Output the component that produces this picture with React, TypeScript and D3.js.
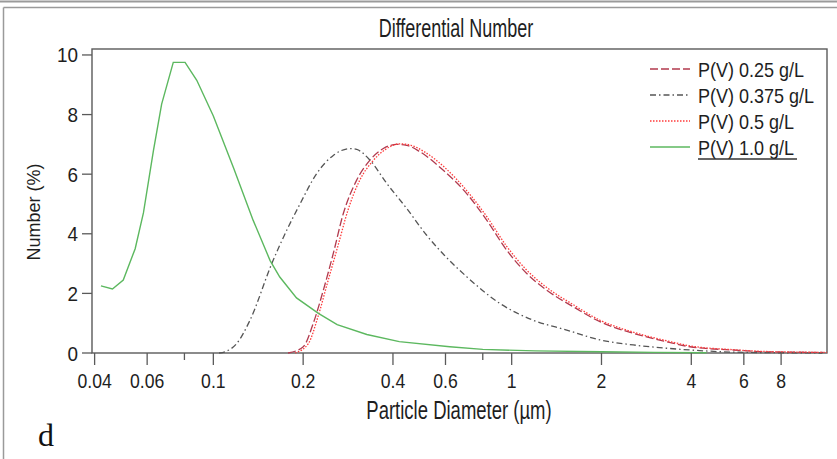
import React from "react";
import * as d3 from "d3";

// ---- data ----
const seriesLabels = ["P(V) 0.25 g/L", "P(V) 0.375 g/L", "P(V) 0.5 g/L", "P(V) 1.0 g/L"];

const d025 = [0.178, 0.2002, 0.2163, 0.2336, 0.2524, 0.2727, 0.3023, 0.335, 0.3713, 0.4117, 0.4447, 0.493, 0.59, 0.7066, 0.8245, 0.9622, 1.123, 1.31, 1.609, 1.976, 2.556, 3.307, 3.958, 5.53, 7.15, 11.04];
const v025 = [0, 0.21, 1.0, 2.1, 3.34, 4.68, 5.8, 6.47, 6.86, 7.0, 6.97, 6.75, 6.13, 5.35, 4.46, 3.45, 2.67, 2.11, 1.55, 1.05, 0.66, 0.38, 0.21, 0.1, 0.04, 0.02];

const d0375 = [0.1045, 0.1094, 0.1198, 0.1327, 0.157, 0.1762, 0.1952, 0.222, 0.2524, 0.2871, 0.3023, 0.335, 0.3813, 0.4447, 0.5189, 0.6055, 0.7066, 0.9138, 1.181, 1.529, 1.976, 2.556, 3.307, 4.276, 5.5, 11];
const v0375 = [0, 0.04, 0.32, 1.1, 3.0, 4.12, 5.0, 6.02, 6.63, 6.86, 6.83, 6.47, 5.69, 4.85, 3.95, 3.2, 2.56, 1.66, 1.1, 0.77, 0.44, 0.27, 0.16, 0.08, 0.03, 0];

const d05 = [0.188, 0.2083, 0.224, 0.242, 0.2617, 0.2828, 0.3096, 0.343, 0.38, 0.422, 0.46, 0.51, 0.6, 0.7066, 0.8245, 0.9622, 1.123, 1.31, 1.609, 1.976, 2.556, 3.307, 3.958, 5.53, 7.15, 11.4];
const v05 = [0, 0.32, 1.2, 2.4, 3.6, 4.8, 5.8, 6.45, 6.85, 7.02, 6.97, 6.75, 6.2, 5.45, 4.58, 3.58, 2.78, 2.2, 1.62, 1.1, 0.7, 0.41, 0.24, 0.11, 0.05, 0.02];

const d10 = [0.042, 0.0459, 0.0499, 0.0547, 0.0583, 0.063, 0.0671, 0.0734, 0.0804, 0.088, 0.1, 0.117, 0.136, 0.155, 0.167, 0.19, 0.225, 0.26, 0.327, 0.42, 0.62, 0.8, 1.2, 2, 3, 4.5];
const v10 = [2.25, 2.15, 2.45, 3.5, 4.7, 6.8, 8.35, 9.75, 9.75, 9.15, 7.95, 6.2, 4.45, 3.1, 2.55, 1.85, 1.33, 0.95, 0.62, 0.38, 0.21, 0.12, 0.07, 0.04, 0.02, 0.01];

const xTickMajor = [0.04, 0.06, 0.1, 0.2, 0.4, 0.6, 1, 2, 4, 6, 8];
const xTickMinor = [0.08, 0.8];
const yTicks = [0, 2, 4, 6, 8, 10];

const W = 837, H = 459;
const M = { left: 92, right: 827, top: 49, bottom: 353 };
const FONT = "'Liberation Sans', Arial, sans-serif";

const x = d3.scaleLog().domain([0.0392, 11.4]).range([M.left, M.right]);
const y = d3.scaleLinear().domain([0, 10.2]).range([M.bottom, M.top]);

const smooth = d3.line<[number, number]>().x(d => x(d[0])).y(d => y(d[1])).curve(d3.curveMonotoneX);
const straight = d3.line<[number, number]>().x(d => x(d[0])).y(d => y(d[1]));

const zip = (a: number[], b: number[]) => a.map((v, i) => [v, b[i]] as [number, number]);

const styles = [
  { color: "#b23a4e", dash: "8,3", width: 1.3 },
  { color: "#555555", dash: "6,3,1.5,3", width: 1.3 },
  { color: "#ff3b3b", dash: "1.5,1.5", width: 1.3 },
  { color: "#5cb85f", dash: "", width: 1.4 },
];

function T(props: { x: number; y: number; sx?: number; size: number; anchor?: string; family?: string; children: any; rotate?: number }) {
  const { x: tx, y: ty, sx = 1, size, anchor = "start", family = FONT, rotate = 0 } = props;
  return (
    <text
      transform={`translate(${tx},${ty}) rotate(${rotate}) scale(${sx},1)`}
      textAnchor={anchor}
      fontFamily={family}
      fontSize={size}
      fill="#1e1e1e"
    >
      {props.children}
    </text>
  );
}

export default function App() {
  const paths = [
    { d: smooth(zip(d025, v025)), s: styles[0] },
    { d: smooth(zip(d0375, v0375)), s: styles[1] },
    { d: smooth(zip(d05, v05)), s: styles[2] },
    { d: straight(zip(d10, v10)), s: styles[3] },
  ];
  const legendX0 = 650, legendX1 = 690, legendTextX = 698;
  const legendRows = [69, 95, 121, 147];
  return (
    <svg width={W} height={H} style={{ position: "absolute", left: 0, top: 0, background: "#fff" }}>
      <rect x={0} y={0} width={W} height={H} fill="#fff" />
      {/* outer frame */}
      <line x1={0} x2={W} y1={1.5} y2={1.5} stroke="#9a9a9a" strokeWidth={2} />
      <line x1={3.5} x2={W} y1={7.5} y2={7.5} stroke="#9a9a9a" strokeWidth={1.5} />
      <line x1={3.5} x2={3.5} y1={7.5} y2={H} stroke="#9a9a9a" strokeWidth={1.5} />

      {/* title */}
      <T x={456} y={37} size={25} sx={0.72} anchor="middle">Differential Number</T>

      {/* plot frame */}
      <rect x={M.left} y={M.top} width={M.right - M.left} height={M.bottom - M.top} fill="none" stroke="#5a5a5a" strokeWidth={1.4} />

      {/* curves */}
      <g clipPath="url(#clip)">
        {paths.map((p, i) => (
          <path key={i} d={p.d || ""} fill="none" stroke={p.s.color} strokeWidth={p.s.width} strokeDasharray={p.s.dash || undefined} />
        ))}
      </g>
      <defs>
        <clipPath id="clip">
          <rect x={M.left} y={M.top} width={M.right - M.left} height={M.bottom - M.top + 1} />
        </clipPath>
      </defs>

      {/* y axis */}
      {yTicks.map(t => (
        <g key={t}>
          <line x1={M.left - 10} x2={M.left} y1={y(t)} y2={y(t)} stroke="#5a5a5a" strokeWidth={1.3} />
          <T x={M.left - 14} y={y(t) + 7.5} size={21} sx={0.9} anchor="end">{String(t)}</T>
        </g>
      ))}
      <T x={40} y={212} size={18} anchor="middle" rotate={-90}>Number (%)</T>

      {/* x axis */}
      {xTickMajor.map(t => (
        <g key={t}>
          <line x1={x(t)} x2={x(t)} y1={M.bottom} y2={M.bottom + 12} stroke="#5a5a5a" strokeWidth={1.3} />
          <T x={x(t)} y={388} size={21} sx={0.84} anchor="middle">{String(t)}</T>
        </g>
      ))}
      {xTickMinor.map(t => (
        <line key={t} x1={x(t)} x2={x(t)} y1={M.bottom} y2={M.bottom + 7} stroke="#5a5a5a" strokeWidth={1.3} />
      ))}
      <T x={459} y={419} size={25} sx={0.74} anchor="middle">Particle Diameter (µm)</T>

      {/* legend */}
      {seriesLabels.map((lab, i) => (
        <g key={lab}>
          <line x1={legendX0} x2={legendX1} y1={legendRows[i]} y2={legendRows[i]} stroke={styles[i].color} strokeWidth={1.4} strokeDasharray={styles[i].dash || undefined} />
          <T x={legendTextX} y={legendRows[i] + 7.5} size={20} sx={0.9}>{lab}</T>
        </g>
      ))}
      <line x1={legendTextX} x2={797} y1={legendRows[3] + 12} y2={legendRows[3] + 12} stroke="#333" strokeWidth={1.5} />

      {/* panel letter */}
      <text x={38} y={446} fontFamily="'Liberation Serif', 'Times New Roman', serif" fontSize={32} fill="#111">d</text>
    </svg>
  );
}
